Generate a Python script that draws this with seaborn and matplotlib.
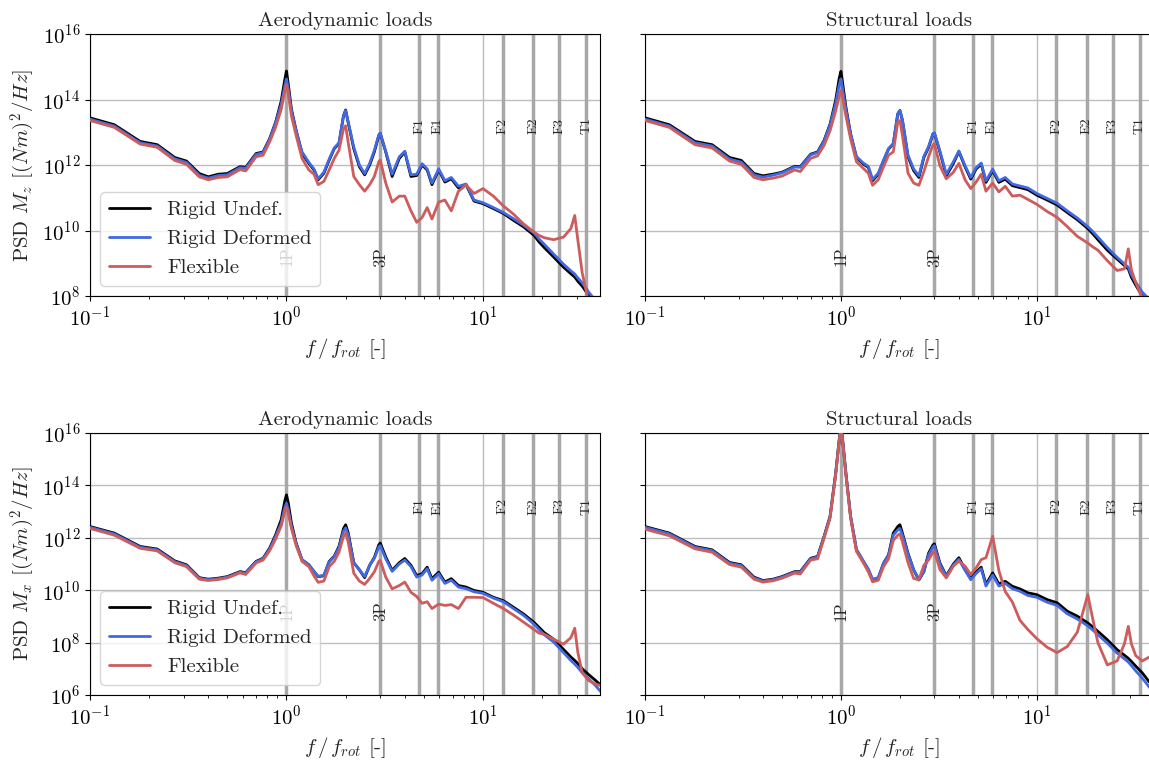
import numpy as np
import matplotlib
matplotlib.use('Agg')
import matplotlib.pyplot as plt
import seaborn as sns

freq = [0.1, 0.133, 0.18, 0.22, 0.27, 0.31, 0.36, 0.40, 0.45, 0.50,
        0.58, 0.62, 0.70, 0.76, 0.82, 0.88, 0.94, 0.98, 1.00, 1.02,
        1.06, 1.12, 1.20, 1.30, 1.38, 1.45, 1.55, 1.65, 1.75, 1.85,
        1.95, 2.00, 2.06, 2.20, 2.35, 2.50, 2.65, 2.80, 2.95, 3.00,
        3.20, 3.45, 3.75, 4.00, 4.30, 4.60, 4.90, 5.20, 5.50, 5.95,
        6.40, 6.90, 7.50, 8.20, 9.00, 10.0, 11.3, 12.7, 14.3, 16.1,
        18.2, 19.3, 20.5, 22.9, 25.7, 28.0, 29.3, 30.4, 32.0, 34.5,
        37.5, 40.0]

# log10 of the PSD, Mz, aerodynamic loads
mz_aero_undef = [13.44, 13.23, 12.72, 12.62, 12.23, 12.12, 11.74, 11.64, 11.72, 11.74,
                 11.95, 11.93, 12.35, 12.40, 12.80, 13.30, 13.95, 14.60, 14.87, 14.50,
                 13.70, 13.05, 12.35, 12.05, 11.85, 11.55, 11.75, 12.15, 12.50, 12.65,
                 13.50, 13.68, 13.30, 12.50, 11.95, 11.70, 12.00, 12.40, 12.90, 12.97,
                 12.40, 11.65, 12.20, 12.40, 11.65, 11.68, 12.00, 11.85, 11.40, 11.85,
                 11.48, 11.58, 11.30, 11.40, 10.90, 10.82, 10.67, 10.52, 10.31, 10.11,
                 9.85, 9.65, 9.48, 9.19, 8.88, 8.68, 8.58, 8.45, 8.30, 8.02,
                 7.80, 7.60]
mz_aero_def = [13.40, 13.19, 12.68, 12.58, 12.19, 12.08, 11.69, 11.60, 11.68, 11.70,
               11.92, 11.90, 12.32, 12.38, 12.78, 13.28, 13.85, 14.40, 14.63, 14.35,
               13.65, 13.05, 12.40, 12.08, 11.88, 11.58, 11.78, 12.18, 12.52, 12.68,
               13.50, 13.66, 13.32, 12.55, 12.00, 11.74, 12.05, 12.45, 12.92, 12.97,
               12.42, 11.72, 12.25, 12.42, 11.70, 11.72, 12.04, 11.88, 11.45, 11.88,
               11.52, 11.62, 11.35, 11.42, 10.93, 10.85, 10.70, 10.55, 10.36, 10.16,
               9.92, 9.74, 9.58, 9.28, 8.97, 8.77, 8.67, 8.55, 8.40, 8.12,
               7.85, 7.65]
mz_aero_flex = [13.36, 13.15, 12.64, 12.54, 12.14, 12.02, 11.64, 11.55, 11.62, 11.64,
                11.86, 11.82, 12.25, 12.30, 12.70, 13.15, 13.70, 14.25, 14.46, 14.20,
                13.50, 12.90, 12.20, 11.85, 11.72, 11.40, 11.50, 11.85, 12.20, 12.45,
                13.10, 13.20, 12.70, 11.65, 11.40, 11.20, 11.40, 11.65, 12.10, 12.15,
                11.45, 10.87, 11.05, 11.05, 10.60, 10.25, 10.40, 10.70, 10.35, 10.87,
                10.93, 10.60, 11.20, 11.39, 11.13, 11.28, 11.05, 10.75, 10.50, 10.20,
                9.95, 9.85, 9.78, 9.72, 9.80, 10.06, 10.46, 9.70, 8.70, 7.80,
                7.50, 7.30]

# log10 of the PSD, Mz, structural loads
mz_struct_undef = [13.44, 13.23, 12.72, 12.62, 12.23, 12.14, 11.74, 11.67, 11.72, 11.78,
                   11.96, 11.95, 12.33, 12.40, 12.75, 13.25, 13.98, 14.65, 14.86, 14.50,
                   13.77, 12.95, 12.23, 12.03, 11.93, 11.52, 11.72, 12.13, 12.49, 12.64,
                   13.56, 13.66, 13.36, 12.25, 11.83, 11.62, 12.23, 12.53, 12.95, 12.97,
                   12.40, 11.67, 12.05, 12.41, 11.95, 11.57, 11.88, 12.03, 11.47, 11.83,
                   11.47, 11.57, 11.37, 11.31, 11.25, 11.08, 10.93, 10.78, 10.55, 10.33,
                   10.06, 9.90, 9.72, 9.40, 9.13, 8.93, 8.83, 8.57, 8.33, 8.00,
                   7.80, 7.60]
mz_struct_def = [13.40, 13.19, 12.68, 12.58, 12.18, 12.09, 11.70, 11.63, 11.69, 11.76,
                 11.94, 11.93, 12.31, 12.38, 12.73, 13.22, 13.88, 14.45, 14.63, 14.32,
                 13.70, 12.95, 12.26, 12.06, 11.96, 11.56, 11.75, 12.15, 12.50, 12.66,
                 13.56, 13.67, 13.38, 12.30, 11.88, 11.67, 12.26, 12.56, 12.96, 12.98,
                 12.43, 11.72, 12.10, 12.43, 11.98, 11.62, 11.92, 12.06, 11.52, 11.87,
                 11.52, 11.62, 11.42, 11.36, 11.30, 11.13, 10.98, 10.83, 10.60, 10.38,
                 10.12, 9.97, 9.80, 9.48, 9.18, 8.98, 8.88, 8.65, 8.42, 8.12,
                 7.90, 7.70]
mz_struct_flex = [13.36, 13.15, 12.62, 12.52, 12.12, 12.02, 11.62, 11.55, 11.60, 11.66,
                  11.85, 11.80, 12.20, 12.28, 12.60, 13.05, 13.65, 14.10, 14.28, 14.05,
                  13.50, 12.80, 12.10, 11.90, 11.75, 11.38, 11.55, 11.95, 12.30, 12.40,
                  13.30, 13.36, 12.90, 11.75, 11.45, 11.38, 11.80, 12.25, 12.62, 12.65,
                  11.98, 11.58, 11.78, 12.05, 11.55, 11.28, 11.48, 11.72, 11.20, 11.45,
                  11.18, 11.35, 11.05, 11.08, 10.95, 10.80, 10.58, 10.40, 10.12, 9.82,
                  9.62, 9.50, 9.40, 9.08, 8.78, 8.83, 9.44, 8.80, 8.40, 7.95,
                  7.75, 7.60]

# log10 of the PSD, Mx, aerodynamic loads
mx_aero_undef = [12.43, 12.18, 11.67, 11.57, 11.12, 10.97, 10.48, 10.42, 10.46, 10.52,
                 10.71, 10.67, 11.10, 11.22, 11.60, 12.11, 12.69, 13.40, 13.64, 13.35,
                 12.56, 11.80, 11.16, 10.97, 10.71, 10.52, 10.55, 11.10, 11.30, 11.67,
                 12.35, 12.50, 12.20, 11.05, 10.78, 10.48, 10.95, 11.25, 11.73, 11.80,
                 11.27, 10.76, 11.05, 11.21, 10.95, 10.56, 10.63, 10.88, 10.44, 10.69,
                 10.31, 10.44, 10.18, 10.12, 9.99, 9.92, 9.73, 9.60, 9.35, 9.09,
                 8.77, 8.58, 8.38, 8.13, 7.74, 7.45, 7.32, 7.20, 7.00, 6.78,
                 6.55, 6.35]
mx_aero_def = [12.40, 12.15, 11.64, 11.54, 11.09, 10.94, 10.46, 10.40, 10.44, 10.50,
               10.69, 10.65, 11.08, 11.20, 11.56, 12.05, 12.55, 13.15, 13.32, 13.10,
               12.45, 11.78, 11.16, 10.97, 10.72, 10.53, 10.57, 11.08, 11.28, 11.62,
               12.25, 12.38, 12.12, 11.05, 10.78, 10.52, 10.95, 11.22, 11.65, 11.70,
               11.20, 10.72, 11.00, 11.15, 10.90, 10.50, 10.58, 10.82, 10.38, 10.63,
               10.26, 10.38, 10.12, 10.06, 9.94, 9.88, 9.70, 9.56, 9.30, 9.04,
               8.70, 8.50, 8.30, 8.02, 7.62, 7.32, 7.18, 7.05, 6.85, 6.62,
               6.35, 6.10]
mx_aero_flex = [12.36, 12.10, 11.60, 11.50, 11.05, 10.90, 10.42, 10.37, 10.41, 10.47,
                10.66, 10.60, 11.04, 11.15, 11.50, 11.95, 12.45, 13.00, 13.17, 12.95,
                12.35, 11.70, 11.10, 10.90, 10.55, 10.30, 10.35, 10.90, 11.10, 11.45,
                12.05, 12.18, 11.85, 10.65, 10.35, 10.22, 10.45, 10.70, 11.10, 11.14,
                10.50, 10.05, 10.18, 10.31, 9.92, 9.76, 9.50, 9.56, 9.30, 9.47,
                9.42, 9.45, 9.30, 9.73, 9.73, 9.72, 9.50, 9.30, 9.05, 8.78,
                8.50, 8.36, 8.32, 8.13, 7.94, 8.19, 8.55, 7.62, 6.85, 6.55,
                6.42, 6.35]

# log10 of the PSD, Mx, structural loads
mx_struct_undef = [12.43, 12.18, 11.67, 11.54, 11.06, 10.97, 10.50, 10.37, 10.42, 10.52,
                   10.71, 10.71, 11.22, 11.29, 12.05, 12.82, 14.47, 15.75, 16.30, 15.75,
                   14.47, 12.82, 11.54, 11.10, 10.78, 10.39, 10.46, 11.03, 11.35, 12.18,
                   12.43, 12.50, 12.18, 11.41, 10.78, 10.39, 10.71, 11.41, 11.73, 11.77,
                   11.04, 10.55, 11.00, 11.24, 10.80, 10.45, 10.70, 10.88, 10.22, 10.66,
                   10.24, 10.34, 10.15, 10.05, 9.90, 9.83, 9.64, 9.52, 9.20, 9.01,
                   8.75, 8.60, 8.43, 8.11, 7.73, 7.52, 7.40, 7.28, 7.10, 6.85,
                   6.50, 6.25]
mx_struct_def = [12.40, 12.15, 11.64, 11.51, 11.03, 10.94, 10.47, 10.35, 10.40, 10.50,
                 10.69, 10.69, 11.20, 11.27, 12.03, 12.80, 14.45, 15.72, 16.28, 15.72,
                 14.45, 12.82, 11.56, 11.12, 10.80, 10.42, 10.48, 11.03, 11.33, 12.10,
                 12.30, 12.35, 12.10, 11.38, 10.78, 10.42, 10.71, 11.35, 11.65, 11.70,
                 11.00, 10.52, 10.96, 11.18, 10.76, 10.40, 10.64, 10.82, 10.16, 10.58,
                 10.16, 10.26, 10.06, 9.96, 9.80, 9.73, 9.54, 9.42, 9.10, 8.90,
                 8.64, 8.48, 8.30, 7.98, 7.60, 7.38, 7.26, 7.12, 6.92, 6.65,
                 6.30, 6.05]
mx_struct_flex = [12.33, 12.08, 11.58, 11.45, 10.98, 10.88, 10.42, 10.31, 10.36, 10.46,
                  10.65, 10.62, 11.15, 11.20, 11.98, 12.75, 14.40, 15.70, 16.25, 15.70,
                  14.40, 12.75, 11.48, 11.05, 10.70, 10.32, 10.38, 10.90, 11.20, 11.90,
                  12.10, 12.15, 11.85, 11.05, 10.45, 10.40, 10.95, 11.15, 11.45, 11.50,
                  10.79, 10.47, 10.92, 11.11, 10.92, 10.60, 10.85, 11.17, 11.24, 12.06,
                  10.75, 9.95, 9.55, 8.85, 8.50, 8.15, 7.82, 7.62, 7.85, 8.40,
                  9.83, 8.90, 8.00, 7.15, 7.30, 7.95, 8.62, 7.95, 7.50, 7.30,
                  7.45, 7.30]

labels = ['Rigid Undef.', 'Rigid Deformed', 'Flexible']
colors = ['black', 'royalblue', 'indianred']

harm_names = ['1P', '3P']
harm_freq = [1.0, 3.0]
mode_names = ['F1', 'E1', 'F2', 'E2', 'F3', 'T1']
mode_freq = [4.75, 5.9, 12.6, 18.0, 24.4, 33.5]

sns.set_style('ticks')
plt.rcParams['font.family'] = 'serif'
plt.rcParams['font.serif'] = ['cmr10', 'DejaVu Serif']
plt.rcParams['mathtext.fontset'] = 'cm'
plt.rcParams['axes.formatter.use_mathtext'] = True
plt.rcParams['axes.unicode_minus'] = False
plt.rcParams['axes.edgecolor'] = 'black'
plt.rcParams['xtick.color'] = 'black'
plt.rcParams['ytick.color'] = 'black'


def psd_panel(ax, series, title, ylim, yticks, ylabel=None, legend=False):
    ax.set_xscale('log')
    ax.set_yscale('log')
    ax.grid(True, which='major', color='#bdbdbd', lw=1.0, zorder=0)
    for x in harm_freq + mode_freq:
        ax.axvline(x, color='#a8a8a8', lw=2.5, zorder=1)
    for vals, lab, c in zip(series, labels, colors):
        sns.lineplot(x=freq, y=10.0 ** np.array(vals), color=c, lw=2,
                     label=lab if legend else None, ax=ax, zorder=3)
    for name, x in zip(harm_names, harm_freq):
        ax.text(x, 10 ** 9.2, name, rotation=90, ha='center', va='center',
                fontsize=12, zorder=2)
    for name, x in zip(mode_names, mode_freq):
        ax.text(x, 10 ** 13.2, name, rotation=90, ha='center', va='center',
                fontsize=10, zorder=2)
    ax.set_xlim(0.1, 39.4)
    ax.set_ylim(*ylim)
    ax.set_yticks(yticks)
    ax.yaxis.set_minor_locator(matplotlib.ticker.NullLocator())
    ax.set_title(title, fontsize=15)
    ax.set_xlabel(r'$f\,/\,f_{rot}$ [-]', fontsize=15)
    ax.tick_params(labelsize=15)
    if ylabel:
        ax.set_ylabel(ylabel, fontsize=15)
    else:
        ax.set_ylabel('')
        ax.tick_params(labelleft=False)
    if legend:
        ax.legend(loc='lower left', fontsize=15)
    elif ax.get_legend() is not None:
        ax.get_legend().remove()


fig = plt.figure(figsize=(11.49, 7.61), dpi=100)
ax1 = fig.add_axes([0.0783, 0.611, 0.4439, 0.3443])
ax2 = fig.add_axes([0.5614, 0.611, 0.4425, 0.3443])
ax3 = fig.add_axes([0.0783, 0.0867, 0.4439, 0.3443])
ax4 = fig.add_axes([0.5614, 0.0867, 0.4425, 0.3443])

top_lim = (1e8, 1e16)
top_ticks = [1e8, 1e10, 1e12, 1e14, 1e16]
bot_lim = (1e6, 1e16)
bot_ticks = [1e6, 1e8, 1e10, 1e12, 1e14, 1e16]

psd_panel(ax1, [mz_aero_undef, mz_aero_def, mz_aero_flex], 'Aerodynamic loads',
          top_lim, top_ticks, ylabel=r'PSD $M_z$ $[(Nm)^2/Hz]$', legend=True)
psd_panel(ax2, [mz_struct_undef, mz_struct_def, mz_struct_flex], 'Structural loads',
          top_lim, top_ticks)
psd_panel(ax3, [mx_aero_undef, mx_aero_def, mx_aero_flex], 'Aerodynamic loads',
          bot_lim, bot_ticks, ylabel=r'PSD $M_x$ $[(Nm)^2/Hz]$', legend=True)
psd_panel(ax4, [mx_struct_undef, mx_struct_def, mx_struct_flex], 'Structural loads',
          bot_lim, bot_ticks)

plt.savefig('out.png', dpi=100)
